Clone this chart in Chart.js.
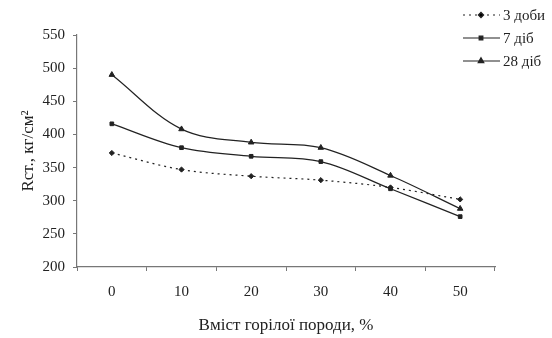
<!DOCTYPE html>
<html>
<head>
<meta charset="utf-8">
<script src="https://cdn.jsdelivr.net/npm/chart.js@4/dist/chart.umd.min.js"></script>
<style>
  html, body { margin: 0; padding: 0; background: #fff; }
  #wrap { width: 552px; height: 338px; }
</style>
</head>
<body>
<div id="wrap"><canvas id="strengthChart"></canvas></div>
<script>

// Categories: burnt rock content, %
var labels = ['0', '10', '20', '30', '40', '50'];

// Strength values, kg/cm2
var days3 = [372, 347, 337, 331, 320, 302];
var days7 = [416, 380, 367, 359, 318, 276];
var days28 = [490, 408, 388, 380, 338, 288];

// Series names
var names = ['3 доби', '7 діб', '28 діб'];

var serif = "'Liberation Serif', 'DejaVu Serif', serif";
var ink = '#222';

// Legend drawn by hand so it can sit over the top right corner
const cornerLegend = {
	id: 'cornerLegend',
	afterDraw(chart) {
		const ctx = chart.ctx;
		const rows = [15, 38, 61];
		ctx.save();
		chart.data.datasets.forEach(function(ds, i) {
			let y = rows[i];
			ctx.strokeStyle = ds.borderColor;
			ctx.lineWidth = ds.borderWidth;
			ctx.setLineDash(ds.borderDash || []);
			ctx.beginPath();
			ctx.moveTo(463, y);
			ctx.lineTo(500, y);
			ctx.stroke();
			ctx.setLineDash([]);
			Chart.helpers.drawPoint(ctx, {
				pointStyle: ds.pointStyle,
				radius: ds.pointRadius,
				borderWidth: 1
			}, 481, y);
			ctx.fillStyle = ink;
			ctx.font = '15px ' + serif;
			ctx.textBaseline = 'middle';
			ctx.fillText(ds.label, 503, y + 1);
		});
		ctx.restore();
	}
};

function series(label, values, style, dash) {
	return {
		label: label,
		data: values,
		borderColor: ink,
		backgroundColor: ink,
		borderWidth: 1.2,
		borderDash: dash,
		pointStyle: style,
		pointRadius: style === 'triangle' ? 3.2 : 2.6,
		pointBorderWidth: 1,
		tension: 0.35,
		fill: false
	};
}

const chart = {
	type: 'line',
	data: {
		labels: labels,
		datasets: [
			series(names[0], days3, 'rectRot', [2, 4]),
			series(names[1], days7, 'rect', []),
			series(names[2], days28, 'triangle', [])
		]
	},
	options: {
		responsive: true,
		maintainAspectRatio: false,
		animation: false,
		layout: { padding: { top: 35, right: 57, left: 0, bottom: 0 } },
		plugins: {
			legend: { display: false },
			tooltip: { enabled: false }
		},
		scales: {
			x: {
				offset: true,
				afterFit: function(scale) { scale.height = 71; },
				grid: {
					offset: true,
					drawOnChartArea: false,
					tickLength: 4,
					color: '#777'
				},
				border: { color: '#777', width: 1.2 },
				ticks: {
					color: ink,
					padding: 12,
					font: { family: serif, size: 15 }
				},
				title: {
					display: true,
					text: 'Вміст горілої породи, %',
					color: ink,
					padding: { top: 0, bottom: 2 },
					font: { family: serif, size: 17 }
				}
			},
			y: {
				min: 200,
				max: 550,
				afterFit: function(scale) { scale.width = 77; },
				grid: {
					drawOnChartArea: false,
					tickLength: 4,
					color: '#777'
				},
				border: { color: '#777', width: 1.2 },
				ticks: {
					stepSize: 50,
					color: ink,
					padding: 8,
					font: { family: serif, size: 15 }
				},
				title: {
					display: true,
					text: 'Rст., кг/см²',
					color: ink,
					padding: { top: 18, bottom: 18 },
					font: { family: serif, size: 17 }
				}
			}
		}
	},
	plugins: [cornerLegend]
};

var strengthChart = new Chart(document.getElementById('strengthChart').getContext('2d'), chart);

</script>
</body>
</html>
